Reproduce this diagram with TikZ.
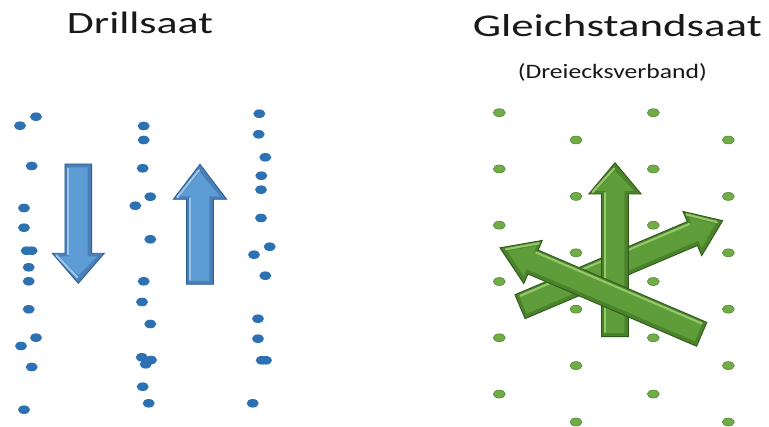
\documentclass[tikz,border=0pt]{standalone}
\usepackage{fontspec}
\setmainfont{Carlito}
\usepackage{graphicx}
\definecolor{dotblue}{HTML}{2E71B3}
\definecolor{dotgreen}{HTML}{70AD47}
\definecolor{dotgreenedge}{HTML}{4E7F30}
\definecolor{bledge}{HTML}{2F5F8E}
\definecolor{blrim}{HTML}{4A80B8}
\definecolor{blbody}{HTML}{5E9CD6}
\definecolor{bllight}{HTML}{A3CDF2}
\definecolor{gredge}{HTML}{2F5A1A}
\definecolor{grrim}{HTML}{4B822C}
\definecolor{grbody}{HTML}{5F9D3B}
\definecolor{grlight}{HTML}{9CD06F}
\tikzset{
  blueouter/.style={fill=blrim,draw=bledge,line width=0.9pt,line join=miter},
  bluebody/.style={fill=blbody},
  bluelight/.style={draw=bllight,line width=2.2pt,line cap=round,opacity=0.9},
  greenouter/.style={fill=grrim,draw=gredge,line width=0.9pt,line join=miter},
  greenbody/.style={fill=grbody},
  greenlight/.style={draw=grlight,line width=2.2pt,line cap=round,opacity=0.9},
  bdot/.style={fill=dotblue},
  gdot/.style={fill=dotgreen,draw=dotgreenedge,line width=0.5pt},
  titletext/.style={inner sep=0pt,text=black!90}
}
% #1 x, #2 y, #3 angle, #4 length, #5 shaft width, #6 head width, #7 head length, #8 style prefix, #9 side of the light
\newcommand{\fatarr}[9]{%
\begin{scope}[shift={(#1,#2)},rotate=#3]
 \path[#8outer] (0,{-#5/2}) -- ({#4-#7},{-#5/2}) -- ({#4-#7},{-#6/2}) -- (#4,0) -- ({#4-#7},{#6/2}) -- ({#4-#7},{#5/2}) -- (0,{#5/2}) -- cycle;
 \path[#8body] (3.5,{-#5/2+4}) -- ({#4-#7+3},{-#5/2+4}) -- ({#4-#7+3},{-#6/2+7}) -- ({#4-8},0) -- ({#4-#7+3},{#6/2-7}) -- ({#4-#7+3},{#5/2-4}) -- (3.5,{#5/2-4}) -- cycle;
 \path[#8light] (4.5,{#9*(#5/2-3)}) -- ({#4-#7+1},{#9*(#5/2-3)});
 \path[#8light] ({#4-#7+2},{#9*(#6/2-4)}) -- ({#4-6},{#9*1});
\end{scope}}
\begin{document}
\begin{tikzpicture}[x=1pt,y=-1pt]
\useasboundingbox[fill=white] (0,0) rectangle (769,427);
% titles
\node[titletext,anchor=base] (t1) at (140,33.3) {\resizebox{146pt}{21.5pt}{Drillsaat}};
\node[titletext,anchor=base] (t2) at (617.3,36.7) {\resizebox{289pt}{22pt}{Gleichstandsaat}};
\node[titletext] (t3) at (612.3,72.5) {\resizebox{189pt}{15pt}{(Dreiecksverband)}};
% blue dots
\foreach \x/\y in {20/125.7,36/116.7,31.7/166,24/208,24/227.7,26.7/250.7,31.7/250.7,28.7/267.3,28.7/281.3,28.7/309.3,36/337.7,21/346,31.7/367,24/409.7,
 143.7/126,143.7/140,142.7/168.3,150.3/196.7,135.3/205.7,150.3/239.3,143.7/281.3,142/302,150.3/324,141.7/357.3,151/360,145.7/364.3,142.7/386.7,148.7/403.3,
 259.3/113.7,258.7/134.3,265.3/157.3,261.3/175.7,261/189.7,261/218,269.7/246.7,254/254.7,265.3/275.7,258/318.7,258/338.7,261.7/360.3,266/360.3,252.7/403.3}
  \path[bdot] (\x,\y) ellipse[x radius=6,y radius=4.3];
% green dots
\foreach \k in {0,...,5}{
  \path[gdot] (499.3,{112.7+56.27*\k}) ellipse[x radius=6,y radius=4];
  \path[gdot] (653.3,{112.7+56.27*\k}) ellipse[x radius=6,y radius=4];
  \path[gdot] (576,{140+56.4*\k}) ellipse[x radius=6,y radius=4];
  \path[gdot] (728.3,{140+56.4*\k}) ellipse[x radius=6,y radius=4];
}
% blue arrows
\fatarr{78.3}{164}{-90}{119.3}{26.7}{52}{30}{blue}{1}
\fatarr{200}{284.3}{90}{120}{26.7}{53.3}{35}{blue}{-1}
% green arrows
\fatarr{520}{306.7}{23}{220.2}{26}{48}{33}{green}{-1}
\fatarr{615}{336.7}{90}{174}{26.7}{52.4}{31.3}{green}{-1}
\fatarr{701.7}{334.3}{156.8}{219.5}{26}{47}{36}{green}{1}
\end{tikzpicture}
\end{document}
